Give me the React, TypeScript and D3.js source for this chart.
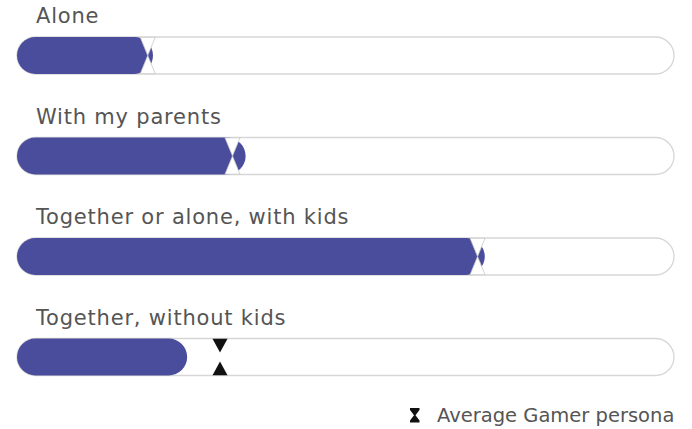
import React from "react";
import * as d3 from "d3";

const categories = ["Alone", "With my parents", "Together or alone, with kids", "Together, without kids"];
const values = [20.7, 34.8, 71.2, 25.9];
const averages = [19.9, 32.8, 70.1, 30.9];
const legendLabel = "Average Gamer persona";

const W = 692;
const H = 429;

export default function App() {
  const x = d3.scaleLinear().domain([0, 100]).range([17, 674]);
  const y = d3.scaleBand<number>().domain(d3.range(categories.length)).range([0, 402]).paddingInner(0);
  const trackH = 37;
  const trackOffset = 37;
  const font = "'DejaVu Sans', sans-serif";
  const barColor = "#4a4c9c";
  const hw = 7.5;

  return (
    <svg width={W} height={H} style={{ position: "absolute", left: 0, top: 0, background: "#fff" }}>
      {categories.map((c, i) => {
        const top = (y(i) ?? 0) + trackOffset;
        const bottom = top + trackH;
        const cy = top + trackH / 2;
        const bx = x(values[i]);
        const m = x(averages[i]);
        const inside = averages[i] < values[i];
        const gap = inside ? 0 : 4.5;
        const fill = inside ? "#ffffff" : "#111111";
        return (
          <g key={c}>
            <text x={36} y={top - 14} fontFamily={font} fontSize={21} letterSpacing={0.8} fill="#555555">
              {c}
            </text>
            <rect
              x={x(0)}
              y={top}
              width={x(100) - x(0)}
              height={trackH}
              rx={trackH / 2}
              fill="#ffffff"
              stroke="#d6d6d6"
              strokeWidth={1.3}
            />
            <rect x={x(0)} y={top} width={bx - x(0)} height={trackH} rx={trackH / 2} fill={barColor} />
            <path
              d={`M${m - hw},${top + 0.3}L${m + hw},${top + 0.3}L${m},${cy - gap}Z`}
              fill={fill}
              stroke={inside ? "#c8c8c8" : "none"}
              strokeWidth={0.8}
            />
            <path
              d={`M${m - hw},${bottom - 0.3}L${m + hw},${bottom - 0.3}L${m},${cy + gap}Z`}
              fill={fill}
              stroke={inside ? "#c8c8c8" : "none"}
              strokeWidth={0.8}
            />
          </g>
        );
      })}
      <g>
        <path
          d="M410,408H419.5V410L415.5,415.2L419.5,420.4V422.5H410V420.4L414,415.2L410,410Z"
          fill="#111111"
        />
        <text x={437} y={422} fontFamily={font} fontSize={19.5} fill="#555555">
          {legendLabel}
        </text>
      </g>
    </svg>
  );
}
